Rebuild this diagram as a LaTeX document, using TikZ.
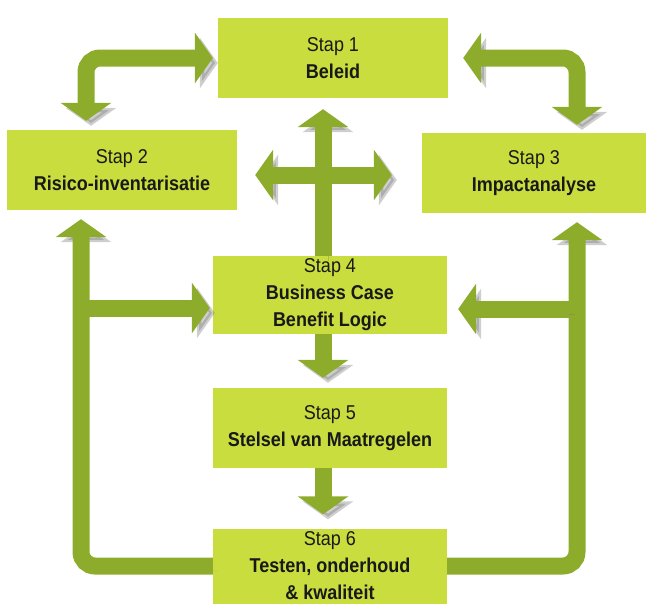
\documentclass[tikz,border=0pt]{standalone}
\usepackage{fontspec}
\setmainfont{Liberation Sans}[FakeStretch=0.9]
\usetikzlibrary{arrows.meta,calc}

\definecolor{boxgreen}{RGB}{201,221,62}
\definecolor{arrowgreen}{RGB}{142,172,44}

\tikzstyle{stapbox}=[fill=boxgreen,rectangle,minimum width=230pt,minimum height=80pt,inner sep=0pt,align=center,text=black!90,font=\fontsize{20}{27}\selectfont]
\tikzstyle{flow}=[draw=arrowgreen,line width=17pt,rounded corners=14pt,preaction={draw=black!55,opacity=.35,transform canvas={shift={(5pt,-5pt)}}}]

\begin{document}
\begin{tikzpicture}[x=1pt,y=-1pt]
			\useasboundingbox (0,0) rectangle (651,603);
			\begin{scope}[>={Triangle[width=50pt,length=18pt]}]
				\node (S1)[stapbox] at (333,58) {Stap 1\\\textbf{Beleid}};
				\node (S2)[stapbox] at (122,170) {Stap 2\\\textbf{Risico-inventarisatie}};
				\node (S3)[stapbox,minimum width=224pt] at (534,173) {Stap 3\\\textbf{Impactanalyse}};
				\node (S4)[stapbox,minimum width=234pt,minimum height=78pt] at (330,295) {Stap 4\\\textbf{Business Case}\\\textbf{Benefit Logic}};
				\node (S5)[stapbox,minimum width=234pt] at (330,428) {Stap 5\\\textbf{Stelsel van Maatregelen}};
				\node (S6)[stapbox,minimum width=234pt,minimum height=75pt] at (330,566) {Stap 6\\\textbf{Testen, onderhoud}\\\textbf{\& kwaliteit}};
				
				\coordinate (hub) at (323,175);
				\coordinate (loopL) at (81,308);
				\coordinate (loopR) at (577,309);
				
				% bovenste bochten
				\draw[flow,<->] ([xshift=-5pt]S1.west) -| ([xshift=-36pt,yshift=9pt]S2.north);
				\draw[flow,<->] ([xshift=15pt]S1.east) -| ([xshift=43pt,yshift=8pt]S3.north);
				
				% kruis in het midden
				\draw[flow,->] (S4.north -| hub) -- ($(S1.south -| hub)+(0,11)$);
				\draw[flow,<->] ($(S2.east |- hub)+(18,0)$) -- ($(S3.west |- hub)+(-30,0)$);
				\draw[flow,->] (S4.south -| hub) -- ($(S5.north -| hub)+(0,-10)$);
				\draw[flow,->] (S5.south -| hub) -- ($(S6.north -| hub)+(0,-14)$);
				
				% terugkoppeling
				\draw[flow,->] (S6.west) -| ($(S2.south -| loopL)+(0,9)$);
				\draw[flow,->] ($(loopL)+(8,0)$) -- ($(S4.west |- loopL)+(-3,0)$);
				\draw[flow,->] (S6.east) -| ($(S3.south -| loopR)+(0,9)$);
				\draw[flow,->] ($(loopR)+(-8,0)$) -- ($(S4.east |- loopR)+(11,0)$);
			\end{scope}
		\end{tikzpicture}
\end{document}
